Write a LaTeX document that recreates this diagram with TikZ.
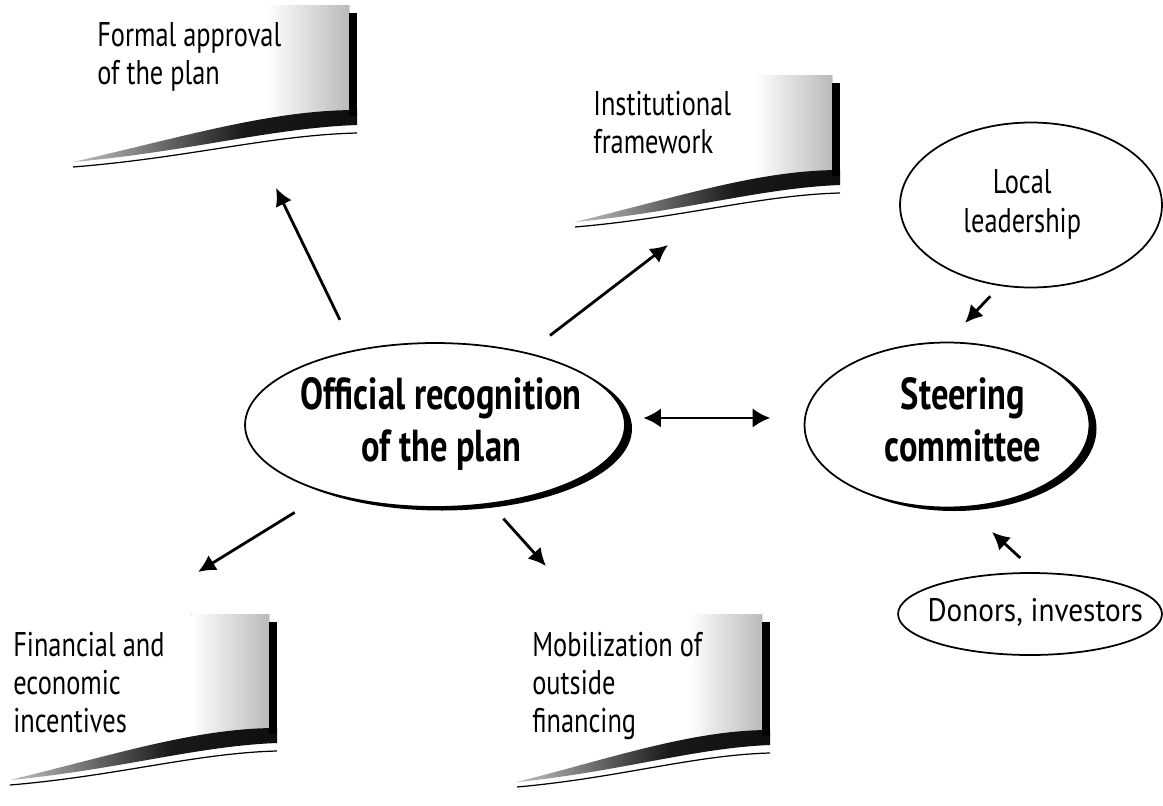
\documentclass[tikz,border=0pt]{standalone}
\usepackage{fontspec}
\setmainfont{PT Sans}[FakeStretch=0.77]
\newfontfamily\widefont{PT Sans}[FakeStretch=0.9]
\usetikzlibrary{shapes.geometric,arrows.meta,shadows}

% shading of the curled bottom edge of the cards
\pgfdeclarehorizontalshading{bandfade}{100bp}{color(0bp)=(white); color(30bp)=(black!35); color(55bp)=(black!90); color(100bp)=(black)}

% card with curled bottom edge: x, y of the right end of the curl, width, bar height
\newcommand{\pagecurl}[4]{%
  \begin{scope}[shift={(#1,#2)}]
    \fill[left color=white, right color=black!27] ({-0.32*#3},{-#4-8}) -- (-8,{-#4-8}) -- (-8,4) -- ({-0.32*#3},12) -- cycle;
    \shade[shading=bandfade] (0,0) .. controls ({-0.3*#3},0) and ({-0.6*#3},26) .. ({-#3},52)
      .. controls ({-0.6*#3},42) and ({-0.3*#3},18) .. (0,15) -- cycle;
    \draw[line width=0.7pt] ({-#3},57) .. controls ({-0.6*#3},48) and ({-0.3*#3},25) .. (0,23);
    \fill (-8,-#4) rectangle (0,6);
  \end{scope}}

% text of a bubble, set apart from its size; optional shift to the right
\newcommand{\inbubble}[2][0pt]{\makebox[0pt]{\kern#1\begin{tabular}{@{}c@{}}#2\end{tabular}\kern-#1}}

\tikzset{
  bubble/.style={ellipse, draw, line width=1pt, fill=white, inner sep=0pt},
  mainbubble/.style={bubble, font=\bfseries\fontsize{25.5}{30}\selectfont,
    drop shadow={shadow xshift=4pt, shadow yshift=-2pt, fill=black, opacity=1}},
  sidebubble/.style={bubble, font=\fontsize{19.5}{22}\selectfont},
  cardtext/.style={anchor=north west, inner sep=0pt, align=left, font=\fontsize{19.5}{21.5}\selectfont},
  arr/.style={-{Latex[length=10pt,width=10pt]}, line width=1.6pt},
  dblarr/.style={{Latex[length=10pt,width=11pt]}-{Latex[length=10pt,width=11pt]}, line width=1.6pt}
}

\begin{document}
\begin{tikzpicture}[x=0.02cm, y=-0.02cm]
  \path[use as bounding box, fill=white] (0,0) rectangle (1163,805);

  % cards
  \pagecurl{357}{110}{284}{97}
  \pagecurl{840}{170}{265}{87}
  \pagecurl{277}{728}{267}{106}
  \pagecurl{770}{730}{253}{108}

  \node (formal) [cardtext] at (97,22) {Formal approval\\of the plan};
  \node (inst) [cardtext] at (593,91) {Institutional\\framework};
  \node (fin) [cardtext] at (13,632) {Financial and\\economic\\incentives};
  \node (mob) [cardtext] at (532,632) {Mobilization of\\outside\\financing};

  % bubbles
  \node (official) [mainbubble, minimum width=7.6cm, minimum height=3.28cm] at (435,425)
    {\inbubble[3.5pt]{Official recognition\\of the plan}};
  \node (steering) [mainbubble, minimum width=5.7cm, minimum height=3.3cm] at (947,425)
    {\inbubble[9pt]{Steering\\committee}};
  \node (local) [sidebubble, minimum width=5.24cm, minimum height=3.3cm] at (1031,205)
    {\inbubble[-5pt]{Local\\leadership}};
  \node (donors) [sidebubble, minimum width=5.28cm, minimum height=1.64cm] at (1030,614)
    {\inbubble[3pt]{\widefont\fontsize{18.5}{22}\selectfont Donors, investors}};

  % arrow tips
  \coordinate (tipformal) at (276,188);
  \coordinate (tipinst) at (668,245);
  \coordinate (tipfin) at (198,572);
  \coordinate (tipmob) at (546,566);
  \coordinate (tiplocal) at (965,323);
  \coordinate (tipdonors) at (992,532);

  \draw[arr, shorten <=19pt] (official.137) -- (tipformal);
  \draw[arr, shorten <=16pt] (official.38) -- (tipinst);
  \draw[arr, shorten <=21pt] (official.212) -- (tipfin);
  \draw[arr, shorten <=11pt] (official.305) -- (tipmob);
  \draw[dblarr, shorten <=10pt, shorten >=19pt] ([yshift=4pt]official.east) -- ([yshift=4pt]steering.west);
  \draw[arr, shorten <=8pt] (local.249) -- (tiplocal);
  \draw[arr, shorten <=12pt] (donors.82) -- (tipdonors);
\end{tikzpicture}
\end{document}
